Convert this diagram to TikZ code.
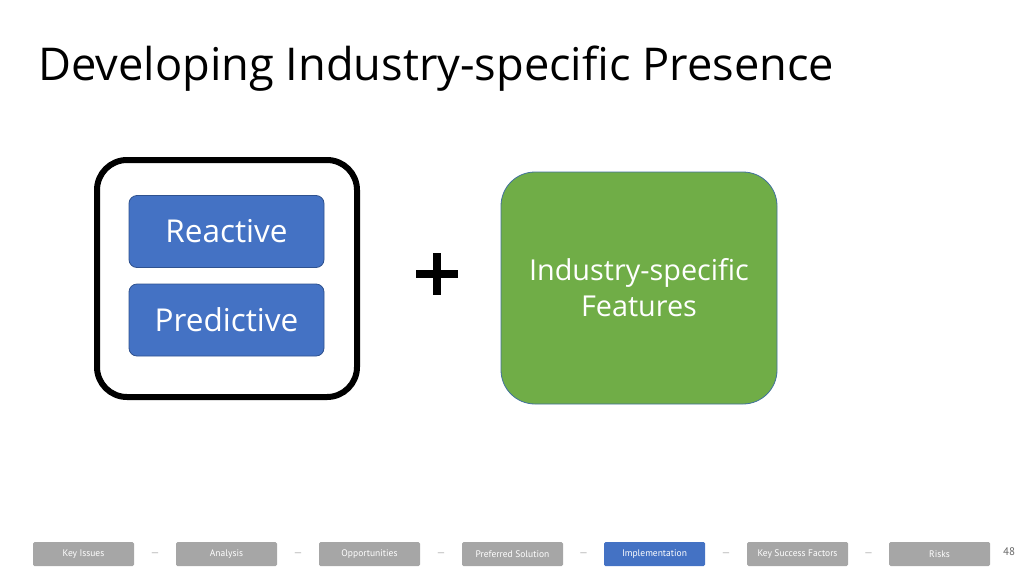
\documentclass[tikz,border=0pt]{standalone}
\usepackage{fontspec}
\usetikzlibrary{calc}
\setmainfont{Open Sans}
\newfontfamily\footfont{PT Sans}
\definecolor{blu}{HTML}{4472C4}
\definecolor{bluedge}{HTML}{2F528F}
\definecolor{grn}{HTML}{70AD47}
\definecolor{grnedge}{HTML}{41719C}
\definecolor{navg}{HTML}{A6A6A6}
\definecolor{dashg}{HTML}{C8C8C8}
\tikzset{
  inner/.style={draw=bluedge, line width=0.8pt, fill=blu, rounded corners=8pt, minimum width=195pt, minimum height=72pt, text=white, font=\fontsize{31.5}{36}\selectfont, inner sep=0pt},
  navbox/.style={fill=navg, rounded corners=1.5pt, minimum width=101pt, minimum height=24pt, inner sep=0pt, text=white, font=\footfont\fontsize{9.5}{11}\selectfont},
  navact/.style={navbox, fill=blu},
  navdash/.style={text=dashg, font=\footfont\fontsize{15}{16}\selectfont, inner sep=0pt}
}
\begin{document}
\begin{tikzpicture}[x=1pt,y=-1pt]
\useasboundingbox (0,0) rectangle (1024,576);
\node[anchor=west, inner sep=0pt, font=\fontsize{45.2}{52}\selectfont] (title) at (38,68.5) {Developing Industry-specific Presence};
\node[draw=black, line width=6pt, rounded corners=30pt, minimum width=260pt, minimum height=237pt, inner sep=0pt] (frame) at (227,278.5) {};
\node[inner] (reactive) at (226.5,231.5) {Reactive};
\node[inner] (predictive) at (226.5,320) {Predictive};
\coordinate (plus) at (437,274);
\draw[line width=8pt] ($(plus)+(-21,0)$) -- ($(plus)+(21,0)$);
\draw[line width=8pt] ($(plus)+(0,-21)$) -- ($(plus)+(0,21)$);
\node[draw=grnedge, line width=0.8pt, fill=grn, rounded corners=34pt, minimum width=276pt, minimum height=232pt, inner sep=0pt, text=white, align=center, font=\fontsize{28.8}{36}\selectfont] (features) at (639,288) {Industry-specific\\Features};
% navigation
\node[navbox] (n1) at (83.5,554) {Key Issues};
\node[navbox] (n2) at (226.5,554) {Analysis};
\node[navbox] (n3) at (369.5,554) {Opportunities};
\node[navbox] (n4) at (512.5,554) {Preferred Solution};
\node[navact] (n5) at (654.5,554) {Implementation};
\node[navbox] (n6) at (797.5,554) {Key Success Factors};
\node[navbox] (n7) at (939.5,554) {Risks};
\foreach \a/\b [count=\i] in {n1/n2,n2/n3,n3/n4,n4/n5,n5/n6,n6/n7}{
  \node[navdash] (d\i) at ($(\a.east)!0.5!(\b.west)+(0,1)$) {–};
}
\node[text=black!60, font=\footfont\fontsize{11}{12}\selectfont, inner sep=0pt] (page) at (1009,552) {48};
\end{tikzpicture}
\end{document}
